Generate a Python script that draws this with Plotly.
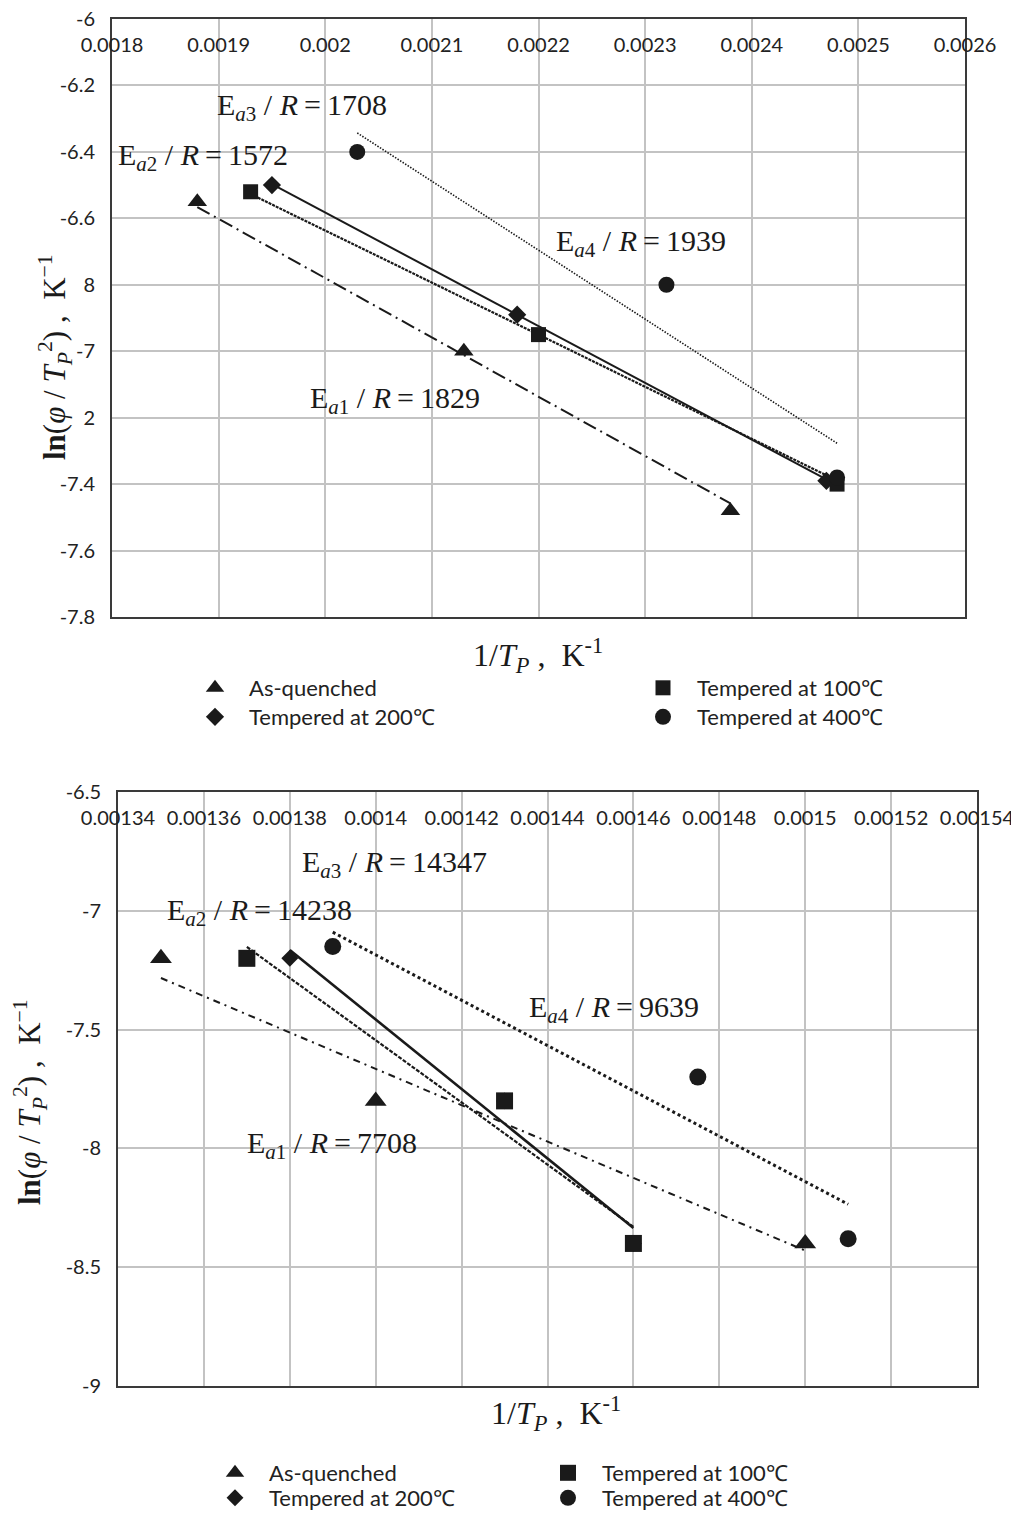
import plotly.graph_objects as go

# page is 1019 x 1513; the page body adds an 8 px margin, so the figure starts at page (8, 8)
PAGE_W, PAGE_H = 1019, 1513
OFF = 8
W, H = PAGE_W - OFF, PAGE_H - OFF

# ---------------- Top chart (series values) ----------------
series_names = ["As-quenched", "Tempered at 100℃", "Tempered at 200℃", "Tempered at 400℃"]

top_aq_x = [0.00188, 0.00213, 0.00238]
top_aq_y = [-6.55, -7.00, -7.48]
top_t100_x = [0.00193, 0.00220, 0.00248]
top_t100_y = [-6.52, -6.95, -7.40]
top_t200_x = [0.00195, 0.00218, 0.00247]
top_t200_y = [-6.50, -6.89, -7.39]
top_t400_x = [0.00203, 0.00232, 0.00248]
top_t400_y = [-6.40, -6.80, -7.38]

# trend lines (start / end)
top_fit_aq_x = [0.00188, 0.00238]
top_fit_aq_y = [-6.566, -7.458]
top_fit_t100_x = [0.00193, 0.00248]
top_fit_t100_y = [-6.527, -7.389]
top_fit_t200_x = [0.00195, 0.00247]
top_fit_t200_y = [-6.497, -7.386]
top_fit_t400_x = [0.00203, 0.00248]
top_fit_t400_y = [-6.343, -7.277]

top_labels = ["E<sub><i>a</i>1</sub> / <i>R</i>\u2009=\u20091829",
              "E<sub><i>a</i>2</sub> / <i>R</i>\u2009=\u20091572",
              "E<sub><i>a</i>3</sub> / <i>R</i>\u2009=\u20091708",
              "E<sub><i>a</i>4</sub> / <i>R</i>\u2009=\u20091939"]

top_xtick_vals = [0.0018, 0.0019, 0.0020, 0.0021, 0.0022, 0.0023, 0.0024, 0.0025, 0.0026]
top_xtick_text = ["0.0018", "0.0019", "0.002", "0.0021", "0.0022", "0.0023", "0.0024", "0.0025", "0.0026"]
top_ytick_vals = [-6.0, -6.2, -6.4, -6.6, -6.8, -7.0, -7.2, -7.4, -7.6, -7.8]
# in the reference the axis title hides the front of the -6.8 and -7.2 labels,
# leaving only "8" and "2" visible
top_ytick_text = ["-6", "-6.2", "-6.4", "-6.6", "8", "-7", "2", "-7.4", "-7.6", "-7.8"]

# ---------------- Bottom chart (series values) ----------------
bot_aq_x = [0.00135, 0.00140, 0.00150]
bot_aq_y = [-7.20, -7.80, -8.40]
bot_t100_x = [0.00137, 0.00143, 0.00146]
bot_t100_y = [-7.20, -7.80, -8.40]
bot_t200_x = [0.00138, 0.00143, 0.00146]
bot_t200_y = [-7.20, -7.80, -8.40]
bot_t400_x = [0.00139, 0.001475, 0.00151]
bot_t400_y = [-7.15, -7.70, -8.38]

bot_fit_aq_x = [0.00135, 0.00150]
bot_fit_aq_y = [-7.283, -8.43]
bot_fit_t100_x = [0.00137, 0.00146]
bot_fit_t100_y = [-7.152, -8.33]
bot_fit_t200_x = [0.00138, 0.00146]
bot_fit_t200_y = [-7.165, -8.335]
bot_fit_t400_x = [0.00139, 0.00151]
bot_fit_t400_y = [-7.09, -8.235]

bot_labels = ["E<sub><i>a</i>1</sub> / <i>R</i>\u2009=\u20097708",
              "E<sub><i>a</i>2</sub> / <i>R</i>\u2009=\u200914238",
              "E<sub><i>a</i>3</sub> / <i>R</i>\u2009=\u200914347",
              "E<sub><i>a</i>4</sub> / <i>R</i>\u2009=\u20099639"]

bot_xtick_vals = [0.00134, 0.00136, 0.00138, 0.00140, 0.00142, 0.00144,
                  0.00146, 0.00148, 0.00150, 0.00152, 0.00154]
bot_xtick_text = ["0.00134", "0.00136", "0.00138", "0.0014", "0.00142", "0.00144",
                  "0.00146", "0.00148", "0.0015", "0.00152", "0.00154"]
bot_ytick_vals = [-6.5, -7.0, -7.5, -8.0, -8.5, -9.0]
bot_ytick_text = ["-6.5", "-7", "-7.5", "-8", "-8.5", "-9"]

# ---------------- styling ----------------
INK = "#1a1a1a"
GRID = "#c3c3c3"
FRAME = "#3a3a3a"
TICKFONT = dict(family="Lato", size=20, color="#222222")
LEGFONT = dict(family="Lato", size=22, color="#222222")
SERIF = "Liberation Serif"

symbols = ["triangle-up", "square", "diamond", "circle"]
msizes_top = [17, 15, 14, 16]
msizes_bot = [19, 17, 13, 17]

top_dash = ["14px,5px,2px,5px", "3px,1px", "solid", "1.5px,1.5px"]
top_lw = [2, 2.2, 2, 1.6]
bot_dash = ["7px,5px,2px,5px", "4px,1.5px", "solid", "3px,3px"]
bot_lw = [2, 2.2, 2.6, 3]

fig = go.Figure()

top_pts = [(top_aq_x, top_aq_y), (top_t100_x, top_t100_y), (top_t200_x, top_t200_y), (top_t400_x, top_t400_y)]
top_fits = [(top_fit_aq_x, top_fit_aq_y), (top_fit_t100_x, top_fit_t100_y),
            (top_fit_t200_x, top_fit_t200_y), (top_fit_t400_x, top_fit_t400_y)]
bot_pts = [(bot_aq_x, bot_aq_y), (bot_t100_x, bot_t100_y), (bot_t200_x, bot_t200_y), (bot_t400_x, bot_t400_y)]
bot_fits = [(bot_fit_aq_x, bot_fit_aq_y), (bot_fit_t100_x, bot_fit_t100_y),
            (bot_fit_t200_x, bot_fit_t200_y), (bot_fit_t400_x, bot_fit_t400_y)]

def leg_id(n):
    return "legend" if n == 1 else f"legend{n}"

for i in range(4):
    fx, fy = top_fits[i]
    fig.add_trace(go.Scatter(x=fx, y=fy, mode="lines", xaxis="x", yaxis="y",
                             line=dict(color=INK, width=top_lw[i], dash=top_dash[i]),
                             showlegend=False, hoverinfo="skip"))
draw_order = [0, 2, 1, 3]
for i in draw_order:
    px, py = top_pts[i]
    fig.add_trace(go.Scatter(x=px, y=py, mode="markers", xaxis="x", yaxis="y",
                             name=series_names[i], legend=leg_id(i + 1),
                             marker=dict(symbol=symbols[i], size=msizes_top[i], color=INK)))

for i in range(4):
    fx, fy = bot_fits[i]
    fig.add_trace(go.Scatter(x=fx, y=fy, mode="lines", xaxis="x2", yaxis="y2",
                             line=dict(color=INK, width=bot_lw[i], dash=bot_dash[i]),
                             showlegend=False, hoverinfo="skip"))
for i in draw_order:
    px, py = bot_pts[i]
    fig.add_trace(go.Scatter(x=px, y=py, mode="markers", xaxis="x2", yaxis="y2",
                             name=series_names[i], legend=leg_id(i + 5),
                             marker=dict(symbol=symbols[i], size=msizes_bot[i], color=INK)))

def pxx(p):
    return (p - OFF) / W

def pxy(p):
    return 1 - (p - OFF) / H

axis_common = dict(showgrid=True, gridcolor=GRID, gridwidth=1.6, zeroline=False,
                   showline=True, mirror=True, linecolor=FRAME, linewidth=2,
                   ticks="", tickmode="array", automargin=False,
                   ticklabeloverflow="allow", tickfont=TICKFONT)

layout = dict(
    width=W, height=H, autosize=False,
    margin=dict(l=0, r=0, t=0, b=0, autoexpand=False),
    paper_bgcolor="white", plot_bgcolor="white",
    xaxis=dict(domain=[pxx(112), pxx(965)], anchor="y", side="top",
               range=[0.0018, 0.0026], tickvals=top_xtick_vals, ticktext=top_xtick_text,
               ticklabelposition="inside", ticklabelstandoff=20, **axis_common),
    yaxis=dict(domain=[pxy(617), pxy(19)], anchor="x",
               range=[-7.8, -6.0], tickvals=top_ytick_vals, ticktext=top_ytick_text,
               ticklabelstandoff=11, **axis_common),
    xaxis2=dict(domain=[pxx(118), pxx(977)], anchor="y2", side="top",
                range=[0.00134, 0.00154], tickvals=bot_xtick_vals, ticktext=bot_xtick_text,
                ticklabelposition="inside", ticklabelstandoff=20, **axis_common),
    yaxis2=dict(domain=[pxy(1386), pxy(792)], anchor="x2",
                range=[-9.0, -6.5], tickvals=bot_ytick_vals, ticktext=bot_ytick_text,
                ticklabelstandoff=11, **axis_common),
    showlegend=True,
)

# legends: one entry each, positioned to match the two-column layout
leg_pos = {
    1: (215, 688), 2: (663, 688), 3: (215, 717), 4: (663, 717),
    5: (235, 1473), 6: (568, 1473), 7: (235, 1498), 8: (568, 1498),
}
for n, (mx, my) in leg_pos.items():
    layout[leg_id(n)] = dict(x=pxx(mx - 34), y=pxy(my), xanchor="left", yanchor="middle",
                             xref="paper", yref="paper", orientation="v",
                             bgcolor="rgba(0,0,0,0)", borderwidth=0,
                             font=LEGFONT, itemwidth=58)

fig.update_layout(**layout)

ann = []
top_ann_pos = [(0.0019839, -7.148), (0.0018037, -6.416), (0.0018966, -6.265), (0.0022146, -6.675)]
for txt, (ax, ay) in zip(top_labels, top_ann_pos):
    ann.append(dict(text=txt, x=ax, y=ay, xref="x", yref="y", xanchor="left", yanchor="middle",
                    showarrow=False, font=dict(family=SERIF, size=30, color=INK)))
bot_ann_pos = [(0.0013696, -7.986), (0.0013509, -7.005), (0.0013824, -6.803), (0.0014352, -7.413)]
for txt, (ax, ay) in zip(bot_labels, bot_ann_pos):
    ann.append(dict(text=txt, x=ax, y=ay, xref="x2", yref="y2", xanchor="left", yanchor="middle",
                    showarrow=False, font=dict(family=SERIF, size=30, color=INK)))

ytitle = "<b>ln</b>(<i>φ</i> / <i>T</i><sub><i>P</i></sub><sup>2</sup>)\u00a0,\u00a0\u00a0K<sup>−1</sup>"
xtitle = "1/<i>T</i><sub><i>P</i></sub>\u00a0,\u00a0\u00a0K<sup>-1</sup>"

ann.append(dict(text=ytitle, x=pxx(55), y=pxy(357), xref="paper", yref="paper",
                xanchor="center", yanchor="middle", textangle=-90, showarrow=False,
                font=dict(family=SERIF, size=31, color=INK)))
ann.append(dict(text=ytitle, x=pxx(30), y=pxy(1102), xref="paper", yref="paper",
                xanchor="center", yanchor="middle", textangle=-90, showarrow=False,
                font=dict(family=SERIF, size=31, color=INK)))
ann.append(dict(text=xtitle, x=pxx(538), y=pxy(655), xref="paper", yref="paper",
                xanchor="center", yanchor="middle", showarrow=False,
                font=dict(family=SERIF, size=32, color=INK)))
ann.append(dict(text=xtitle, x=pxx(556), y=pxy(1413), xref="paper", yref="paper",
                xanchor="center", yanchor="middle", showarrow=False,
                font=dict(family=SERIF, size=32, color=INK)))

fig.update_layout(annotations=ann)

fig.write_html("out.html")
